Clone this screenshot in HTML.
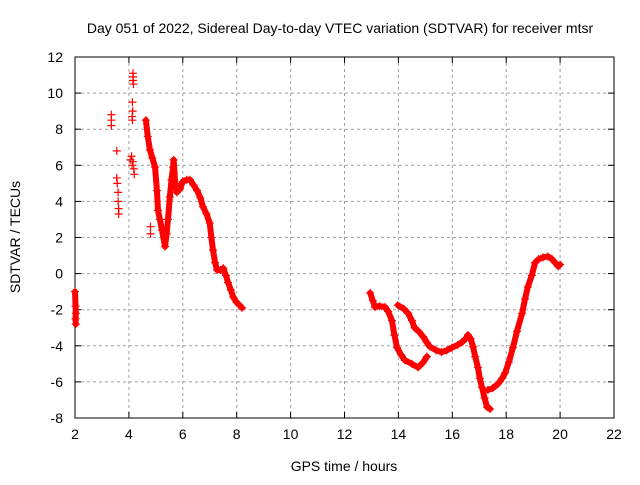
<!DOCTYPE html>
<html><head><meta charset="utf-8"><style>
body{margin:0;background:#fff}
svg text{font-family:"Liberation Sans",sans-serif;font-size:14px;fill:#000}
</style></head><body>
<svg width="640" height="480" id="c">
<text x="340" y="33" text-anchor="middle">Day 051 of 2022, Sidereal Day-to-day VTEC variation (SDTVAR) for receiver mtsr</text>
<text x="344" y="471" text-anchor="middle">GPS time / hours</text>
<text transform="translate(20,237) rotate(-90)" text-anchor="middle">SDTVAR / TECUs</text>
<g id="grid"></g><g id="axes"></g><g id="marks"></g>
</svg>
<script>
const xTicks=[2,4,6,8,10,12,14,16,18,20,22];
const yTicks=[-8,-6,-4,-2,0,2,4,6,8,10,12];
const scatterX=[3.35,3.35,3.35,3.55,3.55,3.57,3.6,3.6,3.62,3.62,4.15,4.16,4.15,4.17,4.13,4.14,4.12,4.13,4.05,4.1,4.15,4.12,4.18,4.2,4.8,4.8];
const scatterY=[8.8,8.5,8.2,6.8,5.3,5.0,4.5,4.0,3.6,3.3,11.1,10.9,10.7,10.5,9.5,9.0,8.7,8.5,6.3,6.5,6.2,6.0,5.8,5.5,2.6,2.2];
const segAX=[2.0,2.02,2.03,2.02,2.03];
const segAY=[-1.0,-1.8,-2.2,-2.5,-2.8];
const segBX=[4.63,4.7,4.78,4.87,4.97,5.04,5.08,5.15,5.23,5.34,5.4,5.45,5.52,5.58,5.64,5.66,5.72,5.78,5.9,6.0,6.15,6.27,6.4,6.53,6.65,6.75,6.88,7.0,7.06,7.12,7.2,7.27,7.4,7.5,7.6,7.68,7.78,7.87,8.0,8.1,8.2];
const segBY=[8.5,7.6,6.85,6.4,5.9,4.6,3.5,3.0,2.4,1.5,2.2,3.0,4.25,5.2,5.9,6.3,5.0,4.5,4.7,5.1,5.2,5.2,4.9,4.6,4.2,3.7,3.3,2.8,2.0,1.3,0.6,0.2,0.2,0.3,-0.1,-0.5,-0.9,-1.3,-1.6,-1.75,-1.9];
const segCX=[12.95,13.05,13.13,13.3,13.5,13.62,13.76,13.85,13.95,14.1,14.24,14.5,14.73,14.9,15.06];
const segCY=[-1.07,-1.5,-1.85,-1.8,-1.85,-2.1,-2.6,-3.4,-4.1,-4.5,-4.8,-5.0,-5.2,-4.95,-4.6];
const segDX=[13.98,14.2,14.36,14.5,14.6,14.75,14.92,15.05,15.17,15.4,15.6,15.8,15.99,16.2,16.36,16.5,16.58,16.68,16.77,16.85,16.95,17.02,17.1,17.2,17.29,17.4];
const segDY=[-1.75,-1.95,-2.2,-2.6,-3.0,-3.2,-3.5,-3.8,-4.05,-4.25,-4.35,-4.25,-4.1,-3.95,-3.8,-3.6,-3.4,-3.6,-4.05,-4.6,-5.2,-5.8,-6.3,-6.9,-7.4,-7.5];
const segEX=[17.32,17.5,17.7,17.85,17.96,18.1,18.25,18.4,18.59,18.7,18.8,18.95,19.07,19.2,19.37,19.55,19.7,19.82,19.93,20.0];
const segEY=[-6.45,-6.35,-6.1,-5.8,-5.5,-4.9,-4.1,-3.2,-2.2,-1.4,-0.75,-0.1,0.6,0.8,0.9,0.95,0.8,0.6,0.4,0.5];
const X0=75,X1=614,Y0=418,Y1=57;
const sx=v=>X0+(v-2)/20*(X1-X0), sy=v=>Y0-(v+8)/20*(Y0-Y1);
const NS="http://www.w3.org/2000/svg";
function mk(t,a,p){const e=document.createElementNS(NS,t);for(const k in a)e.setAttribute(k,a[k]);p.appendChild(e);return e;}
const grid=document.getElementById('grid'),axes=document.getElementById('axes'),marks=document.getElementById('marks');
xTicks.forEach(t=>{const x=sx(t);
 if(t>2&&t<22){const g=mk('line',{x1:x,x2:x,y1:Y1,y2:Y0,stroke:'#a0a0a0','stroke-dasharray':'3,3'},grid);}
 mk('line',{x1:x,x2:x,y1:Y0,y2:Y0-6,stroke:'#000'},axes);mk('line',{x1:x,x2:x,y1:Y1,y2:Y1+6,stroke:'#000'},axes);
 const l=mk('text',{x:x,y:Y0+21,'text-anchor':'middle'},axes);l.textContent=t;
 
 });
yTicks.forEach(t=>{const y=sy(t);
 if(t>-8&&t<12){const g=mk('line',{x1:X0,x2:X1,y1:y,y2:y,stroke:'#a0a0a0','stroke-dasharray':'3,3'},grid);}
 mk('line',{x1:X0,x2:X0+6,y1:y,y2:y,stroke:'#000'},axes);mk('line',{x1:X1,x2:X1-6,y1:y,y2:y,stroke:'#000'},axes);
 const l=mk('text',{x:X0-12,y:y+5,'text-anchor':'end'},axes);l.textContent=t;
 
 });
const fr=mk('rect',{x:X0,y:Y1,width:X1-X0,height:Y0-Y1,fill:'none',stroke:'#000'},axes);


function plus(x,y){const p=mk('path',{d:`M${sx(x)-4},${sy(y)}h8M${sx(x)},${sy(y)-4}v8`,stroke:'#f00','stroke-width':1.2},marks);
 
 }
[[segAX,segAY],[segBX,segBY],[segCX,segCY],[segDX,segDY],[segEX,segEY]].forEach(([xs,ys],i)=>{
 const pl=mk('polyline',{points:xs.map((v,j)=>sx(v)+','+sy(ys[j])).join(' '),fill:'none',stroke:'#f00','stroke-width':6,'stroke-linejoin':'round','stroke-linecap':'round'},marks);
 
 
 xs.forEach((v,j)=>plus(v,ys[j]));});
scatterX.forEach((v,j)=>plus(v,scatterY[j]));
</script>
</body></html>
